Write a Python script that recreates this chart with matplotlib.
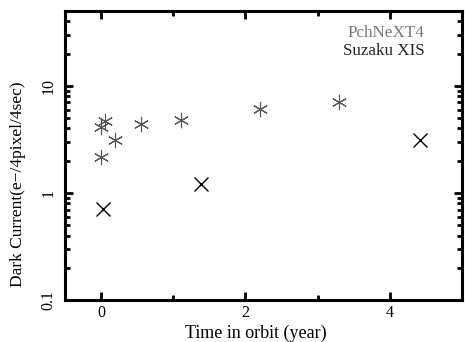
import matplotlib
matplotlib.use('Agg')
import matplotlib.pyplot as plt
from matplotlib.ticker import FixedLocator, LogLocator, NullFormatter

# dark current vs time in orbit
t_star = [0.05, 0.0, 0.19, 0.0, 0.55, 1.11, 2.2, 3.3]
dc_star = [4.7, 4.1, 3.15, 2.15, 4.45, 4.85, 6.1, 7.1]
t_cross = [0.02, 1.38, 4.42]
dc_cross = [0.71, 1.21, 3.1]

plt.rcParams['font.family'] = ['Liberation Serif', 'DejaVu Serif']

fig = plt.figure(figsize=(4.65, 3.42), dpi=100)
ax = fig.add_axes([0.1398, 0.1228, 0.8537, 0.845])

ax.plot(t_star, dc_star, linestyle='none', marker=(6, 2, 0), markersize=11,
        markeredgewidth=0.8, color='#555555')
ax.plot(t_cross, dc_cross, linestyle='none', marker='x', markersize=10,
        markeredgewidth=1.0, color='black')

ax.set_yscale('log')
ax.set_xlim(-0.5, 5)
ax.set_ylim(0.1, 50)

ax.set_xticks([0, 2, 4])
ax.xaxis.set_minor_locator(FixedLocator([1, 3]))
ax.set_yticks([0.1, 1, 10])
ax.set_yticklabels(['0.1', '1', '10'], rotation=90, va='center')
ax.yaxis.set_minor_locator(LogLocator(base=10, subs=range(2, 10)))
ax.yaxis.set_minor_formatter(NullFormatter())

for s in ax.spines.values():
    s.set_linewidth(2.2)
ax.tick_params(which='both', direction='in', top=True, right=True,
               labelsize=11.5, width=2)
ax.tick_params(which='major', length=6)
ax.tick_params(which='minor', length=3.5)
ax.tick_params(axis='y', pad=6)

ax.set_xlabel('Time in orbit (year)', fontsize=13, labelpad=1)
ax.xaxis.set_label_coords(0.48, -0.085)
ax.set_ylabel('Dark Current(e\u2212/4pixel/4sec)', fontsize=12.5)
ax.yaxis.set_label_coords(-0.098, 0.4)

ax.text(0.905, 0.925, 'PchNeXT4', transform=ax.transAxes, ha='right',
        va='center', fontsize=12.3, color='#777777')
ax.text(0.905, 0.86, 'Suzaku XIS', transform=ax.transAxes, ha='right',
        va='center', fontsize=12.3, color='#222222')

fig.savefig('out.png', dpi=100)
